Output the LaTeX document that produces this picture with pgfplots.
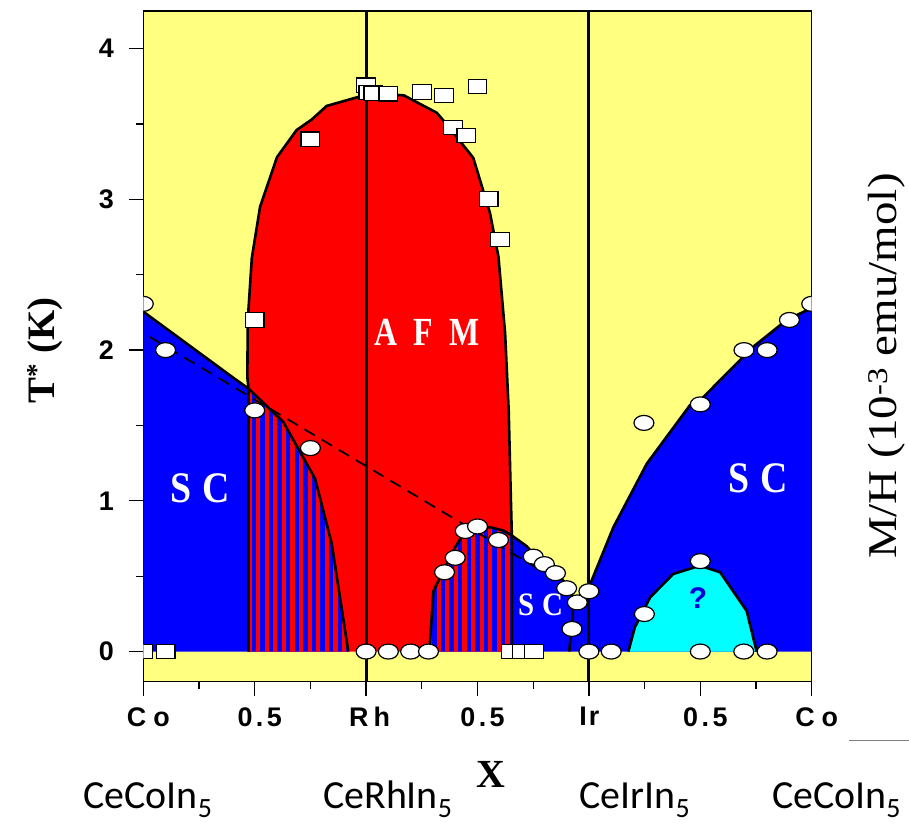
\documentclass[border=0pt]{standalone}
\usepackage{fontspec}
\setmainfont{Liberation Serif}
\setsansfont{Liberation Sans}
\newfontfamily\carlito{Carlito}
\newfontfamily\arialb{Liberation Sans Bold}
\usepackage{pgfplots}
\pgfplotsset{compat=1.18}
\usetikzlibrary{patterns.meta}
\definecolor{myyellow}{RGB}{255,255,128}
\definecolor{mycyan}{RGB}{0,255,255}
\newcommand{\fs}[1]{\fontsize{#1}{#1}\selectfont}
\newcommand{\ytl}[1]{{\arialb #1}}
\begin{document}
\begin{tikzpicture}
\useasboundingbox (-143.3bp,-143.3bp) rectangle (765.7bp,681.7bp);
\begin{axis}[
  at={(0,0)}, anchor=south west,
  scale only axis, width=668.4bp, height=670.7bp,
  xmin=0, xmax=3, ymin=-0.2, ymax=4.25,
  axis background/.style={fill=myyellow},
  axis line style={line width=1.3bp},
  xtick={0,0.5,1,1.5,2,2.5,3},
  xticklabels={{C\kern7bp o},{0\kern3.5bp.\kern3.5bp 5},{R\kern5bp h\kern3bp},{0\kern3.5bp.\kern3.5bp 5},{I\kern2bp r\kern9bp},{0\kern3.5bp.\kern3.5bp 5},{C\kern7bp o}},
  minor xtick={0.25,0.75,1.25,1.75,2.25,2.75},
  ytick={0,1,2,3,4}, yticklabels={\ytl{0},\ytl{1},\ytl{2},\ytl{3},\ytl{4}},
  minor ytick={0.5,1.5,2.5,3.5},
  tick align=outside, xtick pos=bottom, ytick pos=left,
  major tick length=14bp, minor tick length=7bp,
  every tick/.style={black, line width=1.3bp},
  xticklabel style={font=\arialb\fs{27}, xshift=5bp},
  yticklabel style={font=\arialb\fs{27}},
  xticklabel shift=8bp, yticklabel shift=12bp,
  clip marker paths=true,
  after end axis/.code={
    \node[font=\bfseries\fs{40}] at (axis cs:1.56,-0.814) {X};
    \node[font=\carlito\fs{40}, anchor=base] at (axis cs:0.021,-1.038) {CeCoIn\textsubscript{5}};
    \node[font=\carlito\fs{40}, anchor=base] at (axis cs:1.098,-1.038) {CeRhIn\textsubscript{5}};
    \node[font=\carlito\fs{40}, anchor=base] at (axis cs:2.207,-1.038) {CeIrIn\textsubscript{5}};
    \node[font=\carlito\fs{40}, anchor=base] at (axis cs:3.112,-1.038) {CeCoIn\textsubscript{5}};
    \node[font=\bfseries\fs{39}, rotate=90] at (axis cs:-0.441,2.0) {T\textsuperscript{*} (K)};
    \node[font=\fs{41}, rotate=90, xscale=1.15] at (axis cs:3.338,1.894) {M/H (10\textsuperscript{-3} emu/mol)};
    \draw[gray, line width=0.8bp] (axis cs:3.168,-0.589) -- (axis cs:3.437,-0.589);
  },
]
% AFM region
\addplot[fill=red, draw=none] coordinates {
(0.472,0) (0.472,1.745) (0.467,1.82) (0.469,2.2) (0.487,2.61) (0.524,2.95) (0.600,3.28) (0.688,3.46) (0.756,3.53) (0.823,3.62) (0.98,3.686) (1.07,3.70) (1.17,3.69) (1.317,3.575) (1.362,3.498) (1.421,3.387) (1.481,3.276) (1.556,2.91) (1.594,2.62) (1.624,2.11) (1.640,1.60) (1.650,1.0) (1.654,0.78) (1.654,0)
} -- cycle;
% left SC
\addplot[fill=blue, draw=none] coordinates {
(0,0) (0,2.255) (0.41,1.81) (0.472,1.745) (0.628,1.524) (0.771,1.147) (0.846,0.715) (0.92,0)
} -- cycle;
\addplot[pattern={Lines[angle=90,distance=8.6bp,line width=4.2bp]}, pattern color=red, draw=none] coordinates {
(0.472,0) (0.472,1.745) (0.628,1.524) (0.771,1.147) (0.846,0.715) (0.92,0)
} -- cycle;
% middle and right SC
\addplot[fill=blue, draw=none] coordinates {
(1.284,0) (1.302,0.40) (1.347,0.537) (1.391,0.67) (1.436,0.78) (1.496,0.814) (1.556,0.825) (1.616,0.803) (1.654,0.77) (1.72,0.70) (1.78,0.60) (1.855,0.515) (1.915,0.426) (1.93,0.35) (1.97,0.37) (2.012,0.47) (2.11,0.825) (2.26,1.247) (2.454,1.635) (2.50,1.668) (2.738,2.023) (2.888,2.2) (3,2.28) (3,0)
} -- cycle;
\addplot[pattern={Lines[angle=90,distance=8.6bp,line width=4.2bp]}, pattern color=red, draw=none] coordinates {
(1.284,0) (1.302,0.40) (1.347,0.537) (1.391,0.67) (1.436,0.78) (1.496,0.814) (1.556,0.825) (1.616,0.803) (1.654,0.77) (1.654,0)
} -- cycle;
% unknown phase
\addplot[fill=mycyan, draw=none] coordinates {
(2.177,0) (2.206,0.16) (2.275,0.36) (2.379,0.515) (2.499,0.57) (2.589,0.526) (2.708,0.27) (2.753,0)
} -- cycle;
% boundaries
\addplot[black, line width=2.6bp, line join=round] coordinates {
(0.472,0) (0.472,1.745) (0.467,1.82) (0.469,2.2) (0.487,2.61) (0.524,2.95) (0.600,3.28) (0.688,3.46) (0.756,3.53) (0.823,3.62) (0.98,3.686) (1.07,3.70) (1.17,3.69) (1.317,3.575) (1.362,3.498) (1.421,3.387) (1.481,3.276) (1.556,2.91) (1.594,2.62) (1.624,2.11) (1.640,1.60) (1.650,1.0) (1.654,0.78) (1.654,0)
};
\addplot[black, line width=2.6bp, line join=round] coordinates {
(0,2.255) (0.41,1.81) (0.472,1.745) (0.628,1.524) (0.771,1.147) (0.846,0.715) (0.92,0)
};
\addplot[black, line width=2.6bp, line join=round] coordinates {
(1.284,0) (1.302,0.40) (1.347,0.537) (1.391,0.67) (1.436,0.78) (1.496,0.814) (1.556,0.825) (1.616,0.803) (1.654,0.77) (1.72,0.70) (1.78,0.60) (1.855,0.515) (1.915,0.426) (1.93,0.35) (1.925,0.2) (1.912,0)
};
\addplot[black, line width=2.6bp, line join=round] coordinates {
(1.985,0.40) (2.012,0.47) (2.11,0.825) (2.26,1.247) (2.454,1.635) (2.50,1.668) (2.738,2.023) (2.888,2.2) (3,2.28)
};
\addplot[black, line width=2.6bp, line join=round] coordinates {
(2.177,0) (2.206,0.16) (2.275,0.36) (2.379,0.515) (2.499,0.57) (2.589,0.526) (2.708,0.27) (2.753,0)
};
\addplot[black, line width=3bp] coordinates {(1,-0.2) (1,4.25)};
\addplot[black, line width=3bp] coordinates {(2,-0.2) (2,4.25)};
\addplot[black, line width=1.8bp, dash pattern=on 12bp off 8bp] coordinates {(0.03,2.087) (1.97,0.374)};
% labels
\node[font=\bfseries\fs{32}, text=white, yscale=1.25] at (axis cs:1.273,2.116) {A\hspace{0.5em}F\hspace{0.5em}M};
\node[font=\bfseries\fs{38}, text=white, yscale=1.15] at (axis cs:0.255,1.08) {S\hspace{0.3em}C};
\node[font=\bfseries\fs{38}, text=white, yscale=1.15] at (axis cs:2.761,1.152) {S\hspace{0.3em}C};
\node[font=\bfseries\fs{29}, text=white, yscale=1.13] at (axis cs:1.783,0.31) {S\hspace{0.28em}C};
\node[font=\arialb\fs{30}, text=blue!85!black] at (axis cs:2.49,0.357) {?};
% data markers
\addplot[only marks, mark=square*, mark size=7.2bp, mark options={xscale=1.3, fill=white, draw=black, line width=1.2bp}] coordinates {
(0,0) (0.1,0) (0.5,2.2) (0.75,3.4) (1.0,3.757) (1.01,3.709) (1.033,3.704) (1.1,3.70) (1.25,3.713) (1.35,3.69) (1.391,3.476) (1.45,3.424) (1.5,3.748) (1.55,3.003) (1.6,2.733) (1.65,0) (1.70,0) (1.754,0)
};
\addplot[only marks, mark=*, mark size=7.5bp, mark options={xscale=1.33, fill=white, draw=black, line width=1.2bp}] coordinates {
(0,2.307) (0.1,2.0) (0.5,1.6) (0.75,1.35)
(1.0,0) (1.1,0) (1.2,0) (1.28,0)
(1.352,0.526) (1.40,0.622) (1.445,0.80) (1.50,0.83) (1.594,0.74)
(1.75,0.63) (1.80,0.58) (1.85,0.52) (1.90,0.42) (1.948,0.326) (2.0,0.40) (1.924,0.15)
(2.0,0) (2.10,0) (2.247,1.517) (2.5,1.64) (2.5,0.60) (2.249,0.249) (2.5,0) (2.695,0) (2.80,0)
(2.696,2.0) (2.80,2.0) (2.90,2.2) (3.0,2.307)
};
\end{axis}
\end{tikzpicture}
\end{document}
